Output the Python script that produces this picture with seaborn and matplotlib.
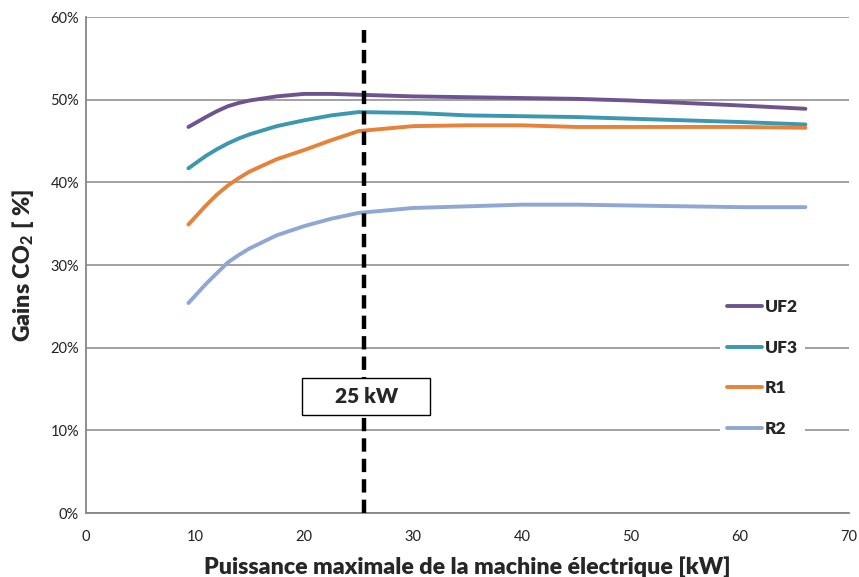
import numpy as np
import pandas as pd
import matplotlib
matplotlib.use('Agg')
import matplotlib.pyplot as plt
import seaborn as sns
from matplotlib.ticker import PercentFormatter
from matplotlib.patches import Rectangle

# values
puissance = [9.4, 11, 12, 13, 14, 15, 17.5, 20, 22.5, 25, 30, 35, 40, 45, 50, 55, 60, 66]
uf2 = [46.7, 47.9, 48.6, 49.2, 49.6, 49.9, 50.4, 50.7, 50.7, 50.6, 50.4, 50.3, 50.2, 50.1, 49.9, 49.6, 49.3, 48.9]
uf3 = [41.7, 43.2, 44.0, 44.7, 45.3, 45.8, 46.8, 47.5, 48.1, 48.5, 48.4, 48.1, 48.0, 47.9, 47.7, 47.5, 47.3, 47.0]
r1 = [34.9, 37.2, 38.5, 39.6, 40.5, 41.3, 42.8, 43.9, 45.1, 46.2, 46.8, 46.9, 46.9, 46.7, 46.7, 46.7, 46.7, 46.6]
r2 = [25.4, 27.7, 29.0, 30.3, 31.2, 32.0, 33.6, 34.7, 35.6, 36.3, 36.9, 37.1, 37.3, 37.3, 37.2, 37.1, 37.0, 37.0]
series = ['UF2', 'UF3', 'R1', 'R2']
couleurs = ['#6E548F', '#3C97AF', '#E6823A', '#8EA8D1']
seuil = 25.5

df = pd.DataFrame({'UF2': uf2, 'UF3': uf3, 'R1': r1, 'R2': r2}, index=puissance)
df.index.name = 'P'
long = df.reset_index().melt(id_vars='P', var_name='cas', value_name='gain')

sns.set_style('white')
plt.rcParams['font.family'] = ['Lato', 'DejaVu Sans']
plt.rcParams['mathtext.fontset'] = 'custom'
plt.rcParams['mathtext.rm'] = 'Lato'
plt.rcParams['mathtext.bf'] = 'Lato:black'

fig = plt.figure(figsize=(8.59, 5.77), dpi=100)
ax = fig.add_axes([0.1001, 0.1109, 0.8883, 0.8596])

sns.lineplot(data=long, x='P', y='gain', hue='cas', hue_order=series,
             palette=couleurs, linewidth=2.8, ax=ax, zorder=3)

# seuil 25 kW
ax.plot([seuil, seuil], [0, 58.4], color='black', lw=3.2, ls=(0, (3, 1.6)), zorder=4,
        dash_capstyle='butt')
ax.add_patch(Rectangle((19.8, 11.85), 11.8, 4.45, fc='white', ec='black', lw=1.0, zorder=5))
ax.text(25.7, 14.05, '25 kW', fontsize=15, fontweight='heavy', ha='center', va='center',
        zorder=6)

ax.set_xlim(0, 70)
ax.set_ylim(0, 60)
ax.set_xticks(range(0, 71, 10))
ax.set_yticks(range(0, 61, 10))
ax.yaxis.set_major_formatter(PercentFormatter(decimals=0))
ax.grid(axis='y', color='#9a9a9a', lw=1.3)
ax.grid(axis='x', visible=False)
ax.set_axisbelow(True)
sns.despine(ax=ax)
for s in ['left', 'bottom']:
    ax.spines[s].set_color('#868686')
    ax.spines[s].set_linewidth(1.3)
ax.tick_params(axis='x', direction='inout', length=8, width=1.1, color='#868686',
               labelsize=10.5, labelcolor='#222222', pad=8)
ax.tick_params(axis='y', direction='out', length=3, width=1.1, color='#868686',
               labelsize=10.5, labelcolor='#222222', pad=2)

ax.set_xlabel('Puissance maximale de la machine électrique [kW]', fontsize=16.7,
              fontweight='heavy', labelpad=9)
ax.set_ylabel(r'Gains CO$_\mathbf{2}$ [ %]', fontsize=16.7, fontweight='heavy', labelpad=10)

leg = ax.legend(loc='upper left', bbox_to_anchor=(0.82, 0.463), frameon=True,
                facecolor='white', edgecolor='none', framealpha=1, fancybox=False,
                handlelength=2.0, handletextpad=0.15, labelspacing=1.42,
                prop={'weight': 'heavy', 'size': 12.5}, title=None)
for h in leg.get_lines():
    h.set_linewidth(2.8)

fig.savefig('out.png', dpi=100)
